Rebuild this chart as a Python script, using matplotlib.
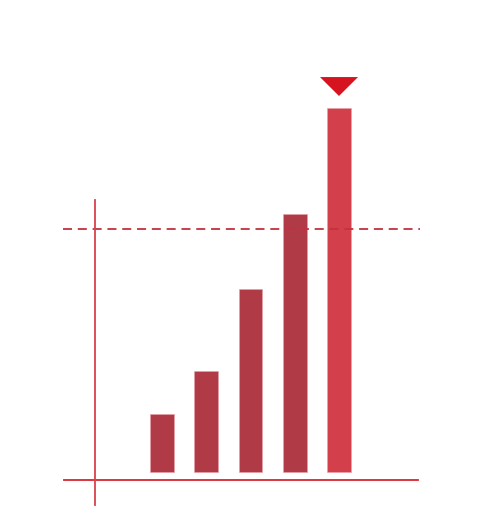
import numpy as np
import matplotlib.pyplot as plt
from matplotlib.patches import Polygon

# bar values (tallest = 100) and the dashed target level
values = [16, 27.7, 50.3, 70.9, 100]
target = 66.8
bar_colors = ["#b03a46", "#b03a46", "#b03a46", "#b03a46", "#d3404c"]
line_red = "#d9252f"

x = np.arange(len(values))

fig = plt.figure(figsize=(4.83, 5.16), dpi=100)
ax = fig.add_axes([0, 0, 1, 1])
ax.set_xlim(-3.661, 7.254)
ax.set_ylim(-12.09, 129.67)
ax.axis("off")

ax.bar(x, values, width=0.542, color=bar_colors, edgecolor="#e8a0a6", linewidth=0.4)

# target line
ax.plot([-2.237, 5.83], [target, target], color="#c2323f", lw=1.3, ls=(0, (5, 3.2)))

# axes drawn as loose lines
ax.plot([-2.215, 5.785], [-2.2, -2.2], color=line_red, lw=1.3)
ax.plot([-1.514, -1.514], [74.7, -9.07], color="#d8424c", lw=1.3)

# marker above the highest bar
top = int(np.argmax(values))
tx, ty = x[top], values[top] + 3.3
tri = Polygon([[tx - 0.43, ty + 5.2], [tx + 0.43, ty + 5.2], [tx, ty]],
              closed=True, color="#d6141f", lw=0)
ax.add_patch(tri)

plt.savefig("out.png", dpi=100)
